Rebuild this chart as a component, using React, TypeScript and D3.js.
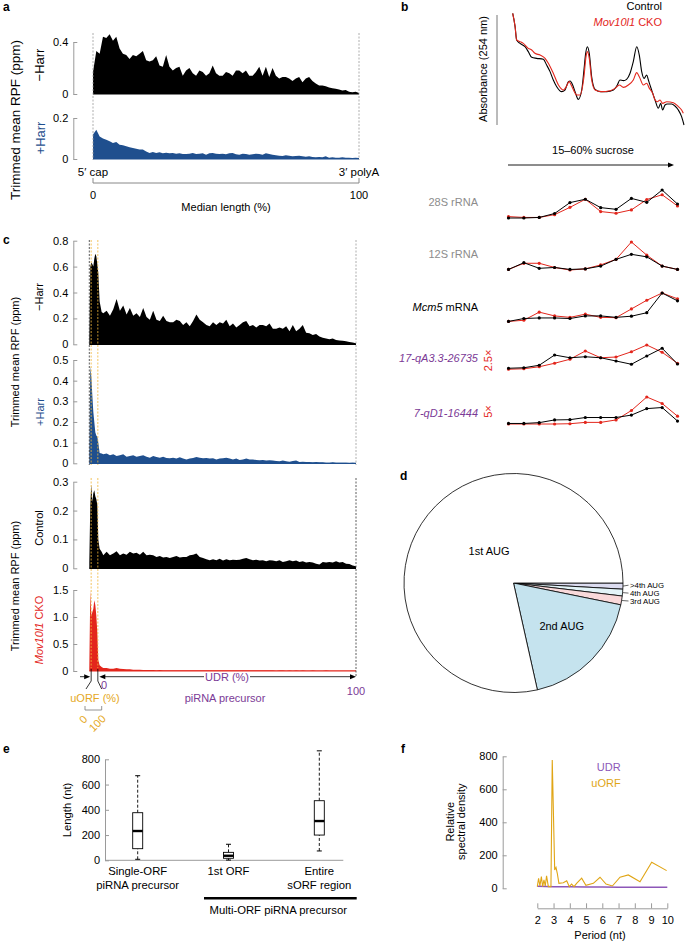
import React, {useEffect, useRef} from "react";
import * as d3 from "d3";

const FONT = "'Liberation Sans', Arial, Helvetica, sans-serif";
const RED = "#e3261c";
const BLUE = "#1f4f8e";
const GOLD = "#e5a823";
const PURPLE = "#7b3a96";
const AXIS = "#9a9a9a";

// ---- panel a: metagene RPF over whole transcripts (evenly spaced bins, 5' cap -> 3' polyA)
const aMinusHarr = [0.17, 0.33, 0.31, 0.44, 0.43, 0.46, 0.41, 0.44, 0.35, 0.31, 0.30, 0.27, 0.30, 0.29, 0.31, 0.33, 0.26, 0.25, 0.26, 0.29,
  0.22, 0.21, 0.30, 0.21, 0.18, 0.20, 0.21, 0.14, 0.18, 0.20, 0.16, 0.14, 0.18, 0.17, 0.14, 0.16, 0.22, 0.16, 0.14, 0.14,
  0.17, 0.16, 0.14, 0.18, 0.18, 0.16, 0.18, 0.14, 0.14, 0.17, 0.21, 0.14, 0.21, 0.13, 0.20, 0.14, 0.12, 0.13, 0.13, 0.12,
  0.10, 0.12, 0.13, 0.09, 0.12, 0.13, 0.10, 0.08, 0.065, 0.065, 0.06, 0.05, 0.045, 0.04, 0.035, 0.026, 0.03, 0.018, 0.013, 0.018, 0.008];
const aPlusHarr = [0.12, 0.143, 0.11, 0.10, 0.094, 0.086, 0.078, 0.083, 0.07, 0.067, 0.062, 0.057, 0.054, 0.05, 0.046, 0.046, 0.037, 0.029, 0.034, 0.029,
  0.033, 0.028, 0.031, 0.028, 0.029, 0.026, 0.028, 0.024, 0.024, 0.026, 0.029, 0.024, 0.026, 0.028, 0.021, 0.028, 0.029, 0.026, 0.024, 0.026,
  0.023, 0.028, 0.029, 0.023, 0.021, 0.026, 0.024, 0.021, 0.023, 0.026, 0.024, 0.021, 0.028, 0.024, 0.021, 0.018, 0.016, 0.015, 0.018, 0.016,
  0.013, 0.015, 0.016, 0.013, 0.011, 0.013, 0.0098, 0.008, 0.0098, 0.008, 0.013, 0.0065, 0.008, 0.0065, 0.0065, 0.008, 0.0065, 0.0065, 0.005, 0.0065, 0.005];

// ---- panel b: polysome profile (position in gradient %, A254 a.u.)
const bControl = [[0, 101.5], [1.4, 89.4], [2.3, 77.3], [4.3, 74.2], [7.2, 71.2], [9.1, 66.7], [11.1, 61.5], [14, 60.6], [17.9, 59.7], [19.8, 54.5],
  [21.8, 48.5], [23.7, 40.9], [25.7, 34.8], [28.6, 30.3], [30.5, 31.8], [32.5, 39.4], [33.5, 40], [35, 36.4], [36.4, 30.3], [38.3, 23.3],
  [40.3, 31.8], [41.6, 50], [42.6, 65.2], [43.6, 71.2], [44.7, 65.2], [46.1, 43.9], [48.1, 32.4], [51, 30.3], [54.9, 30.3], [58.8, 31.8],
  [61.1, 36.4], [62.6, 40.9], [64.6, 40.3], [66.5, 41.5], [68.5, 47], [70.4, 57.6], [72.4, 71.2], [73.9, 63.6], [75.3, 48.5], [76.7, 42.4],
  [78.2, 45.5], [79.2, 40.9], [81.1, 31.8], [83.1, 22.7], [85, 15.2], [86.4, 19.7], [87.5, 13.6], [88.9, 18.2], [90.3, 19.1], [92.8, 19.1],
  [94.7, 17.3], [96.7, 13.6], [98.6, 7.6], [100, 0]];
const bCko = [[0, 101.5], [1.4, 89.4], [2.3, 77.3], [4.3, 75.8], [6.2, 74.2], [9.1, 69.7], [11.1, 68.2], [13, 65.2], [16, 63.6], [18.9, 60.6],
  [20.8, 56.1], [23.7, 47], [26.7, 36.4], [29.6, 31.8], [31.5, 35.5], [32.9, 39.4], [34.4, 35.5], [37.4, 27.3], [39.3, 27.3], [41.6, 43.9],
  [42.8, 62.1], [43.6, 66.7], [44.7, 60.6], [46.1, 40.9], [48.1, 31.8], [51.9, 30.3], [56.8, 31.2], [59.7, 33.3], [62.3, 36.4], [64.6, 34.2],
  [67.5, 36.4], [70.4, 40.9], [72.4, 47.6], [73.9, 43.9], [76.3, 36.4], [78.2, 37.9], [79.8, 33.3], [81.7, 28.8], [83.1, 22.7], [84.4, 21.2],
  [86, 22.7], [87.5, 19.7], [89.9, 21.2], [93.8, 20.3], [96.7, 16.7], [98.6, 13.6], [99.6, 10.6]];

// RNA distribution across 12 gradient fractions (relative)
const bFractions = d3.range(1, 13);
const ctrl28S = [0, 0, 0.02, 0.16, 0.55, 0.67, 0.37, 0.31, 0.70, 0.56, 1.0, 0.50];
const cko28S = [0.05, 0.02, 0.02, 0.12, 0.38, 0.67, 0.23, 0.17, 0.29, 0.66, 0.83, 0.43];
const ctrl12S = [0.02, 0.26, 0.06, 0.09, 0.02, 0.04, 0.14, 0.38, 0.56, 0.47, 0.14, 0.02];
const cko12S = [0.02, 0.24, 0.24, 0.09, 0, 0.04, 0.18, 0.38, 1.0, 0.53, 0.14, 0.02];
const ctrlMcm5 = [0.02, 0.12, 0.14, 0.14, 0.12, 0.21, 0.21, 0.16, 0.20, 0.32, 1.0, 0.73];
const ckoMcm5 = [0.02, 0.06, 0.34, 0.21, 0.16, 0.27, 0.16, 0.15, 0.45, 0.75, 1.0, 0.80];
const ctrl17q = [0.07, 0.09, 0.19, 0.60, 0.49, 0.53, 0.49, 0.36, 0.23, 0.56, 0.87, 0.24];
const cko17q = [0.03, 0.05, 0.13, 0.27, 0.43, 0.76, 0.49, 0.52, 0.73, 1.0, 0.71, 0.27];
const ctrl7q = [0.02, 0.02, 0.05, 0.15, 0.16, 0.24, 0.24, 0.24, 0.33, 0.57, 0.61, 0.11];
const cko7q = [0, 0, 0, 0, 0.01, 0.06, 0.06, 0.15, 0.50, 1.0, 0.76, 0.29];
const bGenes = ["28S rRNA", "12S rRNA", "Mcm5 mRNA", "17-qA3.3-26735", "7-qD1-16444"];
const bScaleNotes = ["", "", "", "2.5×", "5×"];

// ---- panel c: RPF over piRNA precursors, uORF (first few %) then UDR
const cHeadPos = [0, 0.375, 0.75, 1.125, 1.5, 1.875, 2.25, 2.625, 3.0, 3.375, 3.875, 4.625];
const cUorfBounds = [0.7, 3.2];
const cMinusHarrHead = [0.05, 0.6, 0.63, 0.62, 0.6, 0.66, 0.70, 0.68, 0.62, 0.55, 0.33, 0.25];
const cMinusHarrTail = [0.24, 0.26, 0.22, 0.27, 0.35, 0.26, 0.30, 0.23, 0.28, 0.22, 0.24, 0.21, 0.28, 0.21, 0.19, 0.26, 0.19, 0.18, 0.22, 0.18,
  0.17, 0.17, 0.19, 0.18, 0.15, 0.17, 0.14, 0.18, 0.23, 0.19, 0.17, 0.15, 0.14, 0.17, 0.15, 0.17, 0.16, 0.19, 0.14, 0.16,
  0.13, 0.15, 0.17, 0.18, 0.14, 0.15, 0.13, 0.15, 0.15, 0.14, 0.16, 0.12, 0.12, 0.13, 0.12, 0.14, 0.10, 0.15, 0.10, 0.12,
  0.15, 0.09, 0.085, 0.072, 0.08, 0.06, 0.05, 0.044, 0.039, 0.044, 0.033, 0.03, 0.028, 0.023, 0.018, 0.013, 0.008];
const cPlusHarrHead = [0.05, 0.47, 0.42, 0.33, 0.25, 0.20, 0.15, 0.135, 0.128, 0.10, 0.05, 0.048];
const cPlusHarrTail = [0.044, 0.048, 0.039, 0.044, 0.035, 0.039, 0.044, 0.032, 0.035, 0.039, 0.032, 0.035, 0.039, 0.032, 0.027, 0.035, 0.031, 0.027, 0.032, 0.026,
  0.024, 0.027, 0.023, 0.029, 0.023, 0.019, 0.023, 0.026, 0.031, 0.027, 0.024, 0.026, 0.023, 0.024, 0.019, 0.023, 0.024, 0.027, 0.023, 0.019,
  0.023, 0.016, 0.019, 0.023, 0.018, 0.019, 0.016, 0.015, 0.016, 0.013, 0.015, 0.013, 0.011, 0.0097, 0.013, 0.0097, 0.008, 0.011, 0.013, 0.0065,
  0.008, 0.0065, 0.0065, 0.005, 0.0065, 0.005, 0.005, 0.003, 0.003, 0.005, 0.003, 0.003, 0.003, 0.003, 0.0016, 0.003, 0.0016];
const cControlHead = [0.02, 0.22, 0.29, 0.23, 0.26, 0.27, 0.25, 0.24, 0.22, 0.10, 0.068, 0.057];
const cControlTail = [0.045, 0.057, 0.045, 0.051, 0.059, 0.045, 0.051, 0.047, 0.057, 0.051, 0.054, 0.047, 0.057, 0.045, 0.047, 0.045, 0.039, 0.043, 0.037, 0.039,
  0.036, 0.039, 0.043, 0.037, 0.039, 0.039, 0.045, 0.047, 0.051, 0.039, 0.036, 0.031, 0.028, 0.031, 0.028, 0.033, 0.027, 0.031, 0.028, 0.03,
  0.029, 0.03, 0.033, 0.036, 0.031, 0.028, 0.03, 0.027, 0.028, 0.024, 0.028, 0.027, 0.024, 0.028, 0.022, 0.024, 0.028, 0.024, 0.027, 0.022,
  0.024, 0.02, 0.022, 0.02, 0.016, 0.013, 0.022, 0.02, 0.022, 0.02, 0.024, 0.02, 0.022, 0.016, 0.015, 0.01, 0.007];
const cCkoHead = [0.05, 1.49, 1.03, 1.09, 1.15, 1.31, 1.22, 1.03, 0.72, 0.2, 0.105, 0.074];
const cCkoTail = [0.056, 0.056, 0.043, 0.043, 0.056, 0.043, 0.037, 0.031, 0.031, 0.025, 0.025, 0.025, 0.019, 0.019, 0.019, 0.018, 0.016, 0.017, 0.015, 0.016,
  0.015, 0.014, 0.016, 0.015, 0.014, 0.015, 0.013, 0.015, 0.014, 0.015, 0.013, 0.014, 0.015, 0.013, 0.014, 0.013, 0.015, 0.013, 0.014, 0.012,
  0.013, 0.014, 0.012, 0.013, 0.012, 0.014, 0.012, 0.013, 0.012, 0.012, 0.013, 0.012, 0.011, 0.012, 0.013, 0.011, 0.012, 0.011, 0.012, 0.011,
  0.012, 0.011, 0.011, 0.012, 0.011, 0.01, 0.011, 0.012, 0.011, 0.01, 0.011, 0.01, 0.011, 0.01, 0.01, 0.011, 0.009];

// ---- panel d: start codon usage (%)
const dLabels = [">4th AUG", "4th AUG", "3rd AUG", "2nd AUG", "1st AUG"];
const dShares = [0.9, 1.0, 1.3, 18.3, 78.5];
const dColors = ["#dcdcf0", "#e3f4f8", "#f9d9da", "#c5e3ee", "#ffffff"];

// ---- panel e: ORF lengths (nt)
const eCats = ["Single-ORF\npiRNA precursor", "1st ORF", "Entire\nsORF region"];
const eLow = [8, 2, 74];
const eQ1 = [92, 16, 200];
const eMed = [232, 36, 311];
const eQ3 = [377, 63, 472];
const eHigh = [670, 127, 867];

// ---- panel f: periodicity
const fUorfPeriod = [2.0, 2.08, 2.16, 2.25, 2.33, 2.41, 2.49, 2.57, 2.68, 2.84, 2.92, 3.07, 3.15, 3.23, 3.33, 3.6, 3.81, 3.97, 4.11, 4.26,
  4.42, 4.73, 4.99, 5.45, 5.86, 6.23, 6.62, 7.09, 7.6, 8.32, 9.04, 9.96];
const fUorfDensity = [10, 61, 14, 71, 10, 51, 14, 75, 10, 10, 778, 111, 127, 91, 30, 34, 46, 10, 26, 10,
  30, 61, 18, 30, 67, 26, 14, 67, 81, 40, 158, 107];
const fUdrPeriod = [2, 3, 4, 5, 6, 7, 8, 9, 10];
const fUdrDensity = [12, 10, 9, 8, 8, 7, 7, 7, 7];

const fmtDec = (d: number) => (d === 0 ? "0" : d3.format(".1f")(d));
const fmtInt = d3.format("d");

function addText(g: any, x: number, y: number, s: string, o: any = {}) {
  const t = g.append("text").attr("x", x).attr("y", y)
    .attr("font-family", FONT).attr("font-size", o.size ?? 11)
    .attr("fill", o.color ?? "#000")
    .attr("text-anchor", o.anchor ?? "start");
  if (o.weight) t.attr("font-weight", o.weight);
  if (o.italic) t.attr("font-style", "italic");
  if (o.rotate) t.attr("transform", `rotate(${o.rotate},${x},${y})`);
  if (o.dy) t.attr("dy", o.dy);
  t.text(s);
  return t;
}

// parts: [text, italic]
function addRich(g: any, x: number, y: number, parts: [string, boolean][], o: any = {}) {
  const t = addText(g, x, y, "", o);
  parts.forEach(([s, it]) => t.append("tspan").attr("font-style", it ? "italic" : "normal").text(s));
  return t;
}

function yAxis(g: any, scale: any, x: number, ticks: number[], fmt: any, size = 11) {
  const ax = g.append("g").attr("transform", `translate(${x},0)`)
    .call(d3.axisLeft(scale).tickValues(ticks).tickSizeInner(-4).tickSizeOuter(0).tickPadding(5).tickFormat(fmt));
  ax.attr("font-family", FONT).attr("font-size", size);
  ax.select(".domain").attr("stroke", AXIS);
  ax.selectAll(".tick line").attr("stroke", AXIS);
  ax.selectAll(".tick text").attr("fill", "#000");
  return ax;
}

function drawHist(g: any, pos: number[], vals: number[], x: any, y: any, color: string) {
  const pts = pos.map((p, i) => [p, vals[i]]);
  g.append("path").datum(pts)
    .attr("d", d3.area().x((d: any) => x(d[0])).y0(y(0)).y1((d: any) => y(d[1])).curve(d3.curveLinear))
    .attr("fill", color);
  g.append("line").attr("x1", x(0)).attr("x2", x(100)).attr("y1", y(0)).attr("y2", y(0))
    .attr("stroke", color).attr("stroke-width", 1.2);
}

function vDash(g: any, x: number, y1: number, y2: number, color: string) {
  g.append("line").attr("x1", x).attr("x2", x).attr("y1", y1).attr("y2", y2)
    .attr("stroke", color).attr("stroke-width", 0.8).attr("stroke-dasharray", "2,1.5");
}

function line(g: any, x1: number, y1: number, x2: number, y2: number, color = "#000", w = 0.8) {
  return g.append("line").attr("x1", x1).attr("y1", y1).attr("x2", x2).attr("y2", y2)
    .attr("stroke", color).attr("stroke-width", w);
}

function arrowHead(g: any, x: number, y: number, dir: number, color = "#000") {
  g.append("path").attr("d", `M${x},${y}l${-6 * dir},-2.5l0,5z`).attr("fill", color);
}

export default function App() {
  const ref = useRef<SVGSVGElement>(null);

  useEffect(() => {
    const svg = d3.select(ref.current);
    svg.selectAll("*").remove();

    /////////////////////////////////////////////////////////////////// panel a
    const gA = svg.append("g");
    const aX = d3.scaleLinear().domain([0, 100]).range([93, 359]);
    const aYTop = d3.scaleLinear().domain([0, 0.4]).range([94, 42]);
    const aYBot = d3.scaleLinear().domain([0, 0.2]).range([159, 118]);
    const evenPos = (arr: number[]) => arr.map((_, i) => (i / (arr.length - 1)) * 100);
    drawHist(gA, evenPos(aMinusHarr), aMinusHarr, aX, aYTop, "#000");
    drawHist(gA, evenPos(aPlusHarr), aPlusHarr, aX, aYBot, BLUE);
    yAxis(gA, aYTop, 73.3, [0, 0.4], fmtDec);
    yAxis(gA, aYBot, 73.3, [0, 0.2], fmtDec);
    vDash(gA, aX(0), 33, 160, AXIS);
    vDash(gA, aX(100), 33, 160, AXIS);
    addText(gA, 3, 11, "a", {weight: "bold", size: 12});
    addText(gA, 20, 120, "Trimmed mean RPF (ppm)", {anchor: "middle", rotate: -90, size: 13.5});
    addText(gA, 44, 65, "−Harr", {anchor: "middle", rotate: -90, size: 13});
    addText(gA, 44.5, 138, "+Harr", {anchor: "middle", rotate: -90, color: BLUE, size: 13});
    addText(gA, aX(0), 176, "5′ cap", {anchor: "middle", size: 11.5});
    addText(gA, aX(100), 176, "3′ polyA", {anchor: "middle", size: 11.5});
    gA.append("path").attr("d", `M${aX(0)},178V183H${aX(100)}V178`).attr("fill", "none").attr("stroke", "#888");
    addText(gA, aX(0), 199, "0", {anchor: "middle"});
    addText(gA, aX(100), 199, "100", {anchor: "middle"});
    addText(gA, (aX(0) + aX(100)) / 2, 211, "Median length (%)", {anchor: "middle"});

    /////////////////////////////////////////////////////////////////// panel b
    const gB = svg.append("g");
    addText(gB, 401, 11, "b", {weight: "bold", size: 12});
    addText(gB, 662, 10, "Control", {anchor: "end"});
    addRich(gB, 662, 26, [["Mov10l1", true], [" CKO", false]], {anchor: "end", color: RED});
    line(gB, 497, 15, 497, 125, "#777", 1);
    addText(gB, 487, 69, "Absorbance (254 nm)", {anchor: "middle", rotate: -90});
    const bX = d3.scaleLinear().domain([0, 100]).range([512.7, 684]);
    const bY = d3.scaleLinear().domain([0, 100]).range([125, 15]);
    const prof = d3.line().x((d: any) => bX(d[0])).y((d: any) => bY(d[1])).curve(d3.curveMonotoneX);
    gB.append("path").attr("d", prof(bControl as any)).attr("fill", "none").attr("stroke", "#000").attr("stroke-width", 1.1);
    gB.append("path").attr("d", prof(bCko as any)).attr("fill", "none").attr("stroke", RED).attr("stroke-width", 1.1);
    addText(gB, 593, 154, "15–60% sucrose", {anchor: "middle"});
    line(gB, 508, 165, 668, 165, "#000", 0.9);
    arrowHead(gB, 674, 165, 1);

    const fx = d3.scalePoint().domain(bFractions as any).range([508.5, 677.5]);
    const tracks = [
      {ctrl: ctrl28S, cko: cko28S, top: 190, bot: 218, label: 205.7},
      {ctrl: ctrl12S, cko: cko12S, top: 242, bot: 270, label: 258.3},
      {ctrl: ctrlMcm5, cko: ckoMcm5, top: 293, bot: 322, label: 310.7},
      {ctrl: ctrl17q, cko: cko17q, top: 345, bot: 370, label: 361.7},
      {ctrl: ctrl7q, cko: cko7q, top: 397, bot: 424, label: 416.7},
    ];
    tracks.forEach((t, k) => {
      const ty = d3.scaleLinear().domain([0, 1]).range([t.bot, t.top]);
      const ln = d3.line().x((d: any) => fx(d[0]) as number).y((d: any) => ty(d[1]));
      [[t.cko, RED], [t.ctrl, "#000"]].forEach(([vals, col]: any) => {
        const pts = bFractions.map((f, i) => [f, vals[i]]);
        gB.append("path").attr("d", ln(pts as any)).attr("fill", "none").attr("stroke", col).attr("stroke-width", 1);
        gB.append("g").selectAll("circle").data(pts).join("circle")
          .attr("cx", (d: any) => fx(d[0]) as number).attr("cy", (d: any) => ty(d[1]))
          .attr("r", 1.6).attr("fill", col);
      });
      const name = bGenes[k];
      if (k < 2) addText(gB, 478, t.label, name, {anchor: "end", color: "#8c8c8c"});
      else if (k === 2) addRich(gB, 478, t.label, [["Mcm5", true], [" mRNA", false]], {anchor: "end"});
      else addText(gB, 478, t.label, name, {anchor: "end", color: PURPLE, italic: true});
      if (bScaleNotes[k]) {
        addText(gB, 491.5, (t.top + t.bot) / 2 + (k === 3 ? 3 : 1), bScaleNotes[k], {anchor: "middle", rotate: -90, color: RED});
      }
    });

    /////////////////////////////////////////////////////////////////// panel c
    const gC = svg.append("g");
    const cX = d3.scaleLinear().domain([0, 100]).range([89.3, 356]);
    const tailPos = (arr: number[]) => arr.map((_, i) => 5.25 + (i / (arr.length - 1)) * 94.75);
    const panels = [
      {head: cMinusHarrHead, tail: cMinusHarrTail, y: d3.scaleLinear().domain([0, 0.8]).range([344.3, 240.7]), ticks: [0, 0.2, 0.4, 0.6, 0.8], col: "#000"},
      {head: cPlusHarrHead, tail: cPlusHarrTail, y: d3.scaleLinear().domain([0, 0.5]).range([463.3, 360]), ticks: [0, 0.1, 0.2, 0.3, 0.4, 0.5], col: BLUE},
      {head: cControlHead, tail: cControlTail, y: d3.scaleLinear().domain([0, 0.3]).range([568.3, 481.7]), ticks: [0, 0.1, 0.2, 0.3], col: "#000"},
      {head: cCkoHead, tail: cCkoTail, y: d3.scaleLinear().domain([0, 1.5]).range([671, 590]), ticks: [0, 0.5, 1.0, 1.5], col: RED},
    ];
    panels.forEach((p) => {
      drawHist(gC, [...cHeadPos, ...tailPos(p.tail)], [...p.head, ...p.tail], cX, p.y, p.col);
      yAxis(gC, p.y, 73.3, p.ticks, fmtDec);
    });
    vDash(gC, cX(0), 240, 465, "#333");
    vDash(gC, cX(100), 240, 465, AXIS);
    vDash(gC, cX(100), 478, 677, "#333");
    cUorfBounds.forEach((b) => {
      vDash(gC, cX(b), 240, 465, "#f0b63a");
      vDash(gC, cX(b), 478, 668, "#f0b63a");
    });
    addText(gC, 3, 244, "c", {weight: "bold", size: 12});
    addText(gC, 19, 362, "Trimmed mean RPF (ppm)", {anchor: "middle", rotate: -90});
    addText(gC, 19, 586, "Trimmed mean RPF (ppm)", {anchor: "middle", rotate: -90});
    addText(gC, 43, 297, "−Harr", {anchor: "middle", rotate: -90});
    addText(gC, 44, 412, "+Harr", {anchor: "middle", rotate: -90, color: BLUE});
    addText(gC, 43, 528, "Control", {anchor: "middle", rotate: -90});
    addRich(gC, 43, 630, [["Mov10l1", true], [" CKO", false]], {anchor: "middle", rotate: -90, color: RED});

    // position annotation under the panels
    const u0 = cX(cUorfBounds[0]), u1 = cX(cUorfBounds[1]);
    line(gC, 80, 676.7, 85, 676.7);
    arrowHead(gC, u0 - 1, 676.7, 1);
    gC.append("path").attr("d", `M${u0},669V681L86,689M${u1},669V681L101.7,689`).attr("fill", "none").attr("stroke", "#000").attr("stroke-width", 0.8);
    arrowHead(gC, u1 + 1.5, 676.7, -1);
    line(gC, u1 + 6, 676.7, 204, 676.7);
    line(gC, 250, 676.7, cX(100) - 6, 676.7);
    arrowHead(gC, cX(100), 676.7, 1);
    addText(gC, 227, 680.5, "UDR (%)", {anchor: "middle", color: PURPLE});
    addText(gC, 104, 689, "0", {anchor: "middle", color: PURPLE});
    addText(gC, cX(100), 695, "100", {anchor: "middle", color: PURPLE});
    addText(gC, 95, 702, "uORF (%)", {anchor: "middle", color: GOLD});
    addText(gC, 225, 702, "piRNA precursor", {anchor: "middle", color: PURPLE});
    gC.append("path").attr("d", "M85,706V710H101.7V706").attr("fill", "none").attr("stroke", "#777").attr("stroke-width", 0.8);
    addText(gC, 86, 722, "0", {anchor: "middle", color: GOLD, rotate: -45});
    addText(gC, 100, 726, "100", {anchor: "middle", color: GOLD, rotate: -45});

    /////////////////////////////////////////////////////////////////// panel d
    const gD = svg.append("g");
    addText(gD, 400, 480, "d", {weight: "bold", size: 12});
    const cx = 513.5, cy = 583, R = 109.5;
    const pie = d3.pie<number>().sort(null).value((d) => d).startAngle(Math.PI / 2).endAngle(Math.PI / 2 + 2 * Math.PI);
    const arcs = pie(dShares);
    const arc = d3.arc<any>().innerRadius(0).outerRadius(R);
    const gPie = gD.append("g").attr("transform", `translate(${cx},${cy})`);
    gPie.selectAll("path").data(arcs).join("path")
      .attr("d", arc)
      .attr("fill", (_, i) => dColors[i])
      .attr("stroke", "#000").attr("stroke-width", 0.8).attr("stroke-linejoin", "round");
    const labelDy = [2.2, 10.1, 18];
    arcs.slice(0, 3).forEach((a, i) => {
      const m = (a.startAngle + a.endAngle) / 2;
      const px = cx + R * Math.sin(m), py = cy - R * Math.cos(m);
      const ly = cy + labelDy[i];
      line(gD, px, py, cx + R + 5.5, ly, "#000", 0.6);
      addText(gD, cx + R + 7, ly, dLabels[i], {size: 7.8, dy: "0.35em"});
    });
    addText(gD, 489, 554.5, dLabels[4], {anchor: "middle"});
    addText(gD, 561.7, 629.5, dLabels[3], {anchor: "middle"});

    /////////////////////////////////////////////////////////////////// panel e
    const gE = svg.append("g");
    addText(gE, 3, 753, "e", {weight: "bold", size: 12});
    const eY = d3.scaleLinear().domain([0, 800]).range([860.3, 759.3]);
    const eX = d3.scalePoint().domain(eCats).range([137.7, 319.3]);
    yAxis(gE, eY, 105, [0, 200, 400, 600, 800], fmtInt, 11);
    line(gE, 105, eY(0), 343.3, eY(0), AXIS, 1);
    addText(gE, 70.5, 810, "Length (nt)", {anchor: "middle", rotate: -90, size: 11.3});
    eCats.forEach((c, i) => {
      const x = eX(c) as number;
      line(gE, x, eY(eLow[i]), x, eY(eQ1[i]), "#000", 0.9).attr("stroke-dasharray", "3,2");
      line(gE, x, eY(eQ3[i]), x, eY(eHigh[i]), "#000", 0.9).attr("stroke-dasharray", "3,2");
      line(gE, x - 2.5, eY(eLow[i]), x + 2.5, eY(eLow[i]), "#000", 1);
      line(gE, x - 2.5, eY(eHigh[i]), x + 2.5, eY(eHigh[i]), "#000", 1);
      gE.append("rect").attr("x", x - 5).attr("width", 10).attr("y", eY(eQ3[i])).attr("height", eY(eQ1[i]) - eY(eQ3[i]))
        .attr("fill", "#fff").attr("stroke", "#000").attr("stroke-width", 0.9);
      line(gE, x - 5, eY(eMed[i]), x + 5, eY(eMed[i]), "#000", 2.4);
      c.split("\n").forEach((s, j) => addText(gE, x, 875 + j * 13.5, s, {anchor: "middle", size: 11.3}));
    });
    line(gE, 204, 898.3, 356.7, 898.3, "#000", 2.5);
    addText(gE, 278.3, 914, "Multi-ORF piRNA precursor", {anchor: "middle", size: 11.3});

    /////////////////////////////////////////////////////////////////// panel f
    const gF = svg.append("g");
    addText(gF, 401, 753, "f", {weight: "bold", size: 12});
    const fX = d3.scaleLinear().domain([2, 10]).range([537.3, 667.3]);
    const fY = d3.scaleLinear().domain([0, 800]).range([888.3, 756.3]);
    yAxis(gF, fY, 502.7, [0, 200, 400, 600, 800], fmtInt, 11);
    const xa = gF.append("g").attr("transform", "translate(0,908.3)")
      .call(d3.axisBottom(fX).tickValues(d3.range(2, 11)).tickSizeInner(-5).tickSizeOuter(0).tickPadding(8).tickFormat(fmtInt));
    xa.attr("font-family", FONT).attr("font-size", 11);
    xa.select(".domain").attr("stroke", AXIS);
    xa.selectAll(".tick line").attr("stroke", AXIS);
    const fl = d3.line().x((d: any) => fX(d[0])).y((d: any) => fY(d[1]));
    gF.append("path").attr("d", fl(fUdrPeriod.map((p, i) => [p, fUdrDensity[i]]) as any))
      .attr("fill", "none").attr("stroke", "#8d57b8").attr("stroke-width", 1.5);
    gF.append("path").attr("d", fl(fUorfPeriod.map((p, i) => [p, fUorfDensity[i]]) as any))
      .attr("fill", "none").attr("stroke", "#e0a515").attr("stroke-width", 1.1);
    addText(gF, 620.7, 770.5, "UDR", {anchor: "end", color: "#8d57b8"});
    addText(gF, 620.7, 786.5, "uORF", {anchor: "end", color: "#e0a515"});
    addText(gF, 454, 821.7, "Relative", {anchor: "middle", rotate: -90});
    addText(gF, 465.5, 821.7, "spectral density", {anchor: "middle", rotate: -90});
    addText(gF, 600, 939, "Period (nt)", {anchor: "middle"});
  }, []);

  return (
    <svg ref={ref} width={685} height={941}
      style={{position: "absolute", left: 0, top: 0, background: "#fff", display: "block"}} />
  );
}
